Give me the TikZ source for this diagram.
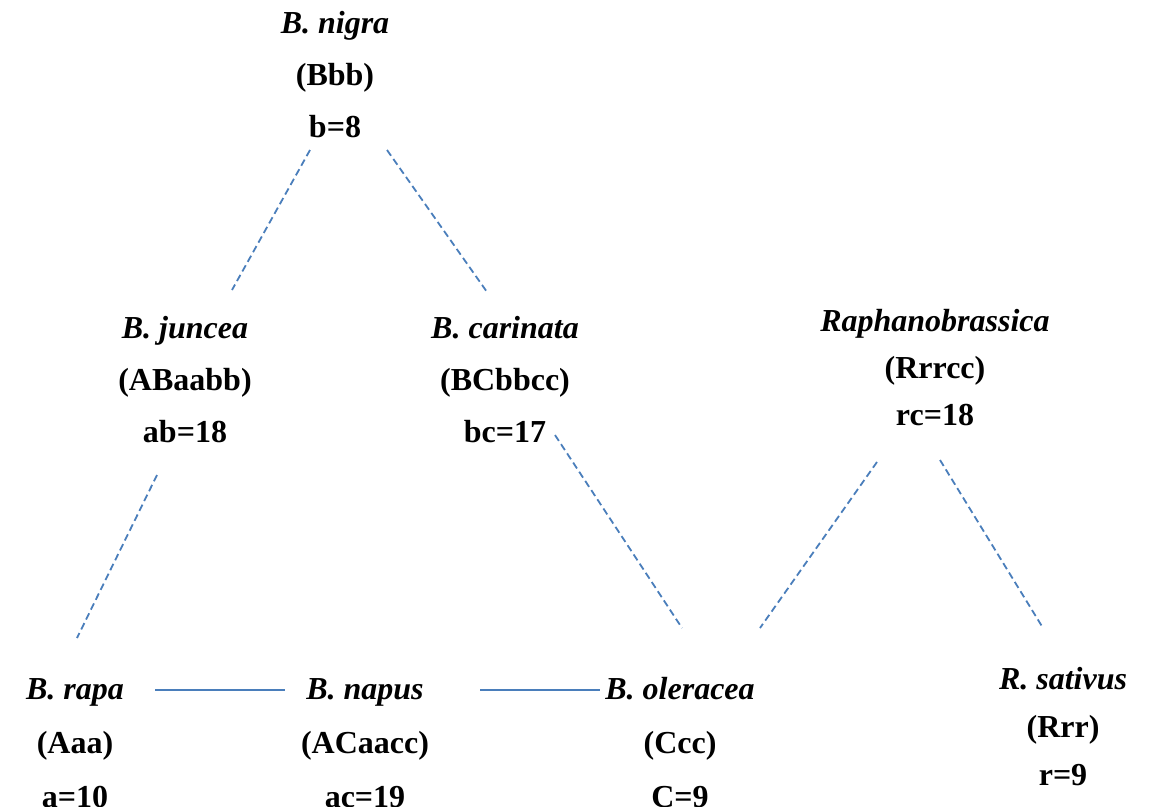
\documentclass[tikz,border=0pt]{standalone}
\usepackage{fontspec}
\setmainfont{Liberation Serif}
\definecolor{lc}{HTML}{4A7EBB}
\begin{document}
\begin{tikzpicture}[x=1pt,y=-1pt,
  lab/.style={font=\fontsize{32}{52}\selectfont\bfseries,align=center,inner sep=0pt},
  dl/.style={draw=lc,line width=1.8pt,dash pattern=on 7pt off 4pt},
  sl/.style={draw=lc,line width=1.8pt}]
\useasboundingbox (0,0) rectangle (1150,806);
\node[lab] (nigra) at (335,75) {\textit{B. nigra}\\(Bbb)\\b=8};
\node[lab] (juncea) at (185,380) {\textit{B. juncea}\\(ABaabb)\\ab=18};
\node[lab] (carinata) at (505,380) {\textit{B. carinata}\\(BCbbcc)\\bc=17};
\node[lab,font=\fontsize{32}{47}\selectfont\bfseries] (raph) at (935,368) {\textit{Raphanobrassica}\\(Rrrcc)\\rc=18};
\node[lab,font=\fontsize{32}{54}\selectfont\bfseries] (rapa) at (75,743) {\textit{B. rapa}\\(Aaa)\\a=10};
\node[lab,font=\fontsize{32}{54}\selectfont\bfseries] (napus) at (365,743) {\textit{B. napus}\\(ACaacc)\\ac=19};
\node[lab,font=\fontsize{32}{54}\selectfont\bfseries] (oler) at (680,743) {\textit{B. oleracea}\\(Ccc)\\C=9};
\node[lab,font=\fontsize{32}{48}\selectfont\bfseries] (sat) at (1063,727) {\textit{R. sativus}\\(Rrr)\\r=9};
\coordinate (a1) at (310,150); \coordinate (a2) at (232,290);
\coordinate (b1) at (387,150); \coordinate (b2) at (487,292);
\coordinate (c1) at (157,475); \coordinate (c2) at (77,638);
\coordinate (d1) at (555,435); \coordinate (d2) at (682,628);
\coordinate (e1) at (877,462); \coordinate (e2) at (760,628);
\coordinate (f1) at (940,460); \coordinate (f2) at (1043,628);
\draw[dl] (a1) -- (a2);
\draw[dl] (b1) -- (b2);
\draw[dl] (c1) -- (c2);
\draw[dl] (d1) -- (d2);
\draw[dl] (e1) -- (e2);
\draw[dl] (f1) -- (f2);
\coordinate (g1) at (155,690); \coordinate (g2) at (285,690);
\coordinate (h1) at (480,690); \coordinate (h2) at (600,690);
\draw[sl] (g1) -- (g2);
\draw[sl] (h1) -- (h2);
\end{tikzpicture}
\end{document}
